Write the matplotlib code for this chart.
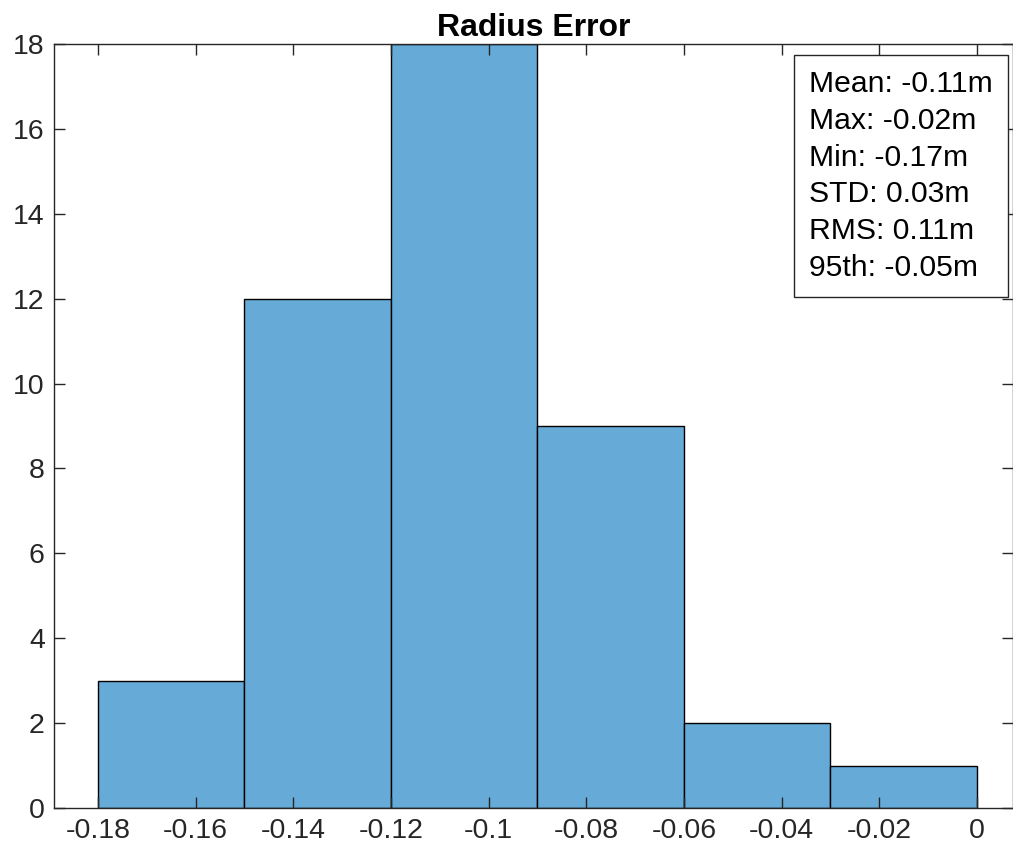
import numpy as np
import matplotlib
matplotlib.use("Agg")
import matplotlib.pyplot as plt

# Histogram of radius error (bin edges in metres, counts per bin)
bin_edges = [-0.18, -0.15, -0.12, -0.09, -0.06, -0.03, 0.0]
counts = [3, 12, 18, 9, 2, 1]

stats_labels = ["Mean", "Max", "Min", "STD", "RMS", "95th"]
stats_values = ["-0.11m", "-0.02m", "-0.17m", "0.03m", "0.11m", "-0.05m"]

xticks = [-0.18, -0.16, -0.14, -0.12, -0.1, -0.08, -0.06, -0.04, -0.02, 0]
xtick_labels = ["-0.18", "-0.16", "-0.14", "-0.12", "-0.1", "-0.08", "-0.06", "-0.04", "-0.02", "0"]
yticks = list(range(0, 19, 2))

plt.rcParams["font.family"] = ["Liberation Sans", "DejaVu Sans"]
axis_color = "#262626"
bar_color = (0.4, 0.668, 0.845)

fig = plt.figure(figsize=(10.13, 8.61), dpi=100)
ax = fig.add_axes([0.0538, 0.0616, 0.9462, 0.8873])

edges = np.array(bin_edges)
ax.bar(edges[:-1], counts, width=np.diff(edges), align="edge",
       color=bar_color, edgecolor="black", linewidth=1.0)

ax.set_xlim(-0.1889, 0.0074)
ax.set_ylim(0, 18)
ax.set_xticks(xticks)
ax.set_xticklabels(xtick_labels)
ax.set_yticks(yticks)

ax.tick_params(direction="in", length=8, width=1, colors=axis_color,
               labelsize=20.5, top=True, right=True, pad=7)
for s in ax.spines.values():
    s.set_color(axis_color)
    s.set_linewidth(1.0)

ax.set_title("Radius Error", fontsize=23, fontweight="bold", pad=6)

# stats box, top right inside the axes
text = "\n".join(f"{k}: {v}" for k, v in zip(stats_labels, stats_values))
ax.text(0.787, 0.966, text, transform=ax.transAxes, ha="left", va="top",
        fontsize=21.7, linespacing=1.40,
        bbox=dict(boxstyle="square,pad=0.5", facecolor="white",
                  edgecolor=axis_color, linewidth=1.0))

fig.savefig("out.png", dpi=100)
